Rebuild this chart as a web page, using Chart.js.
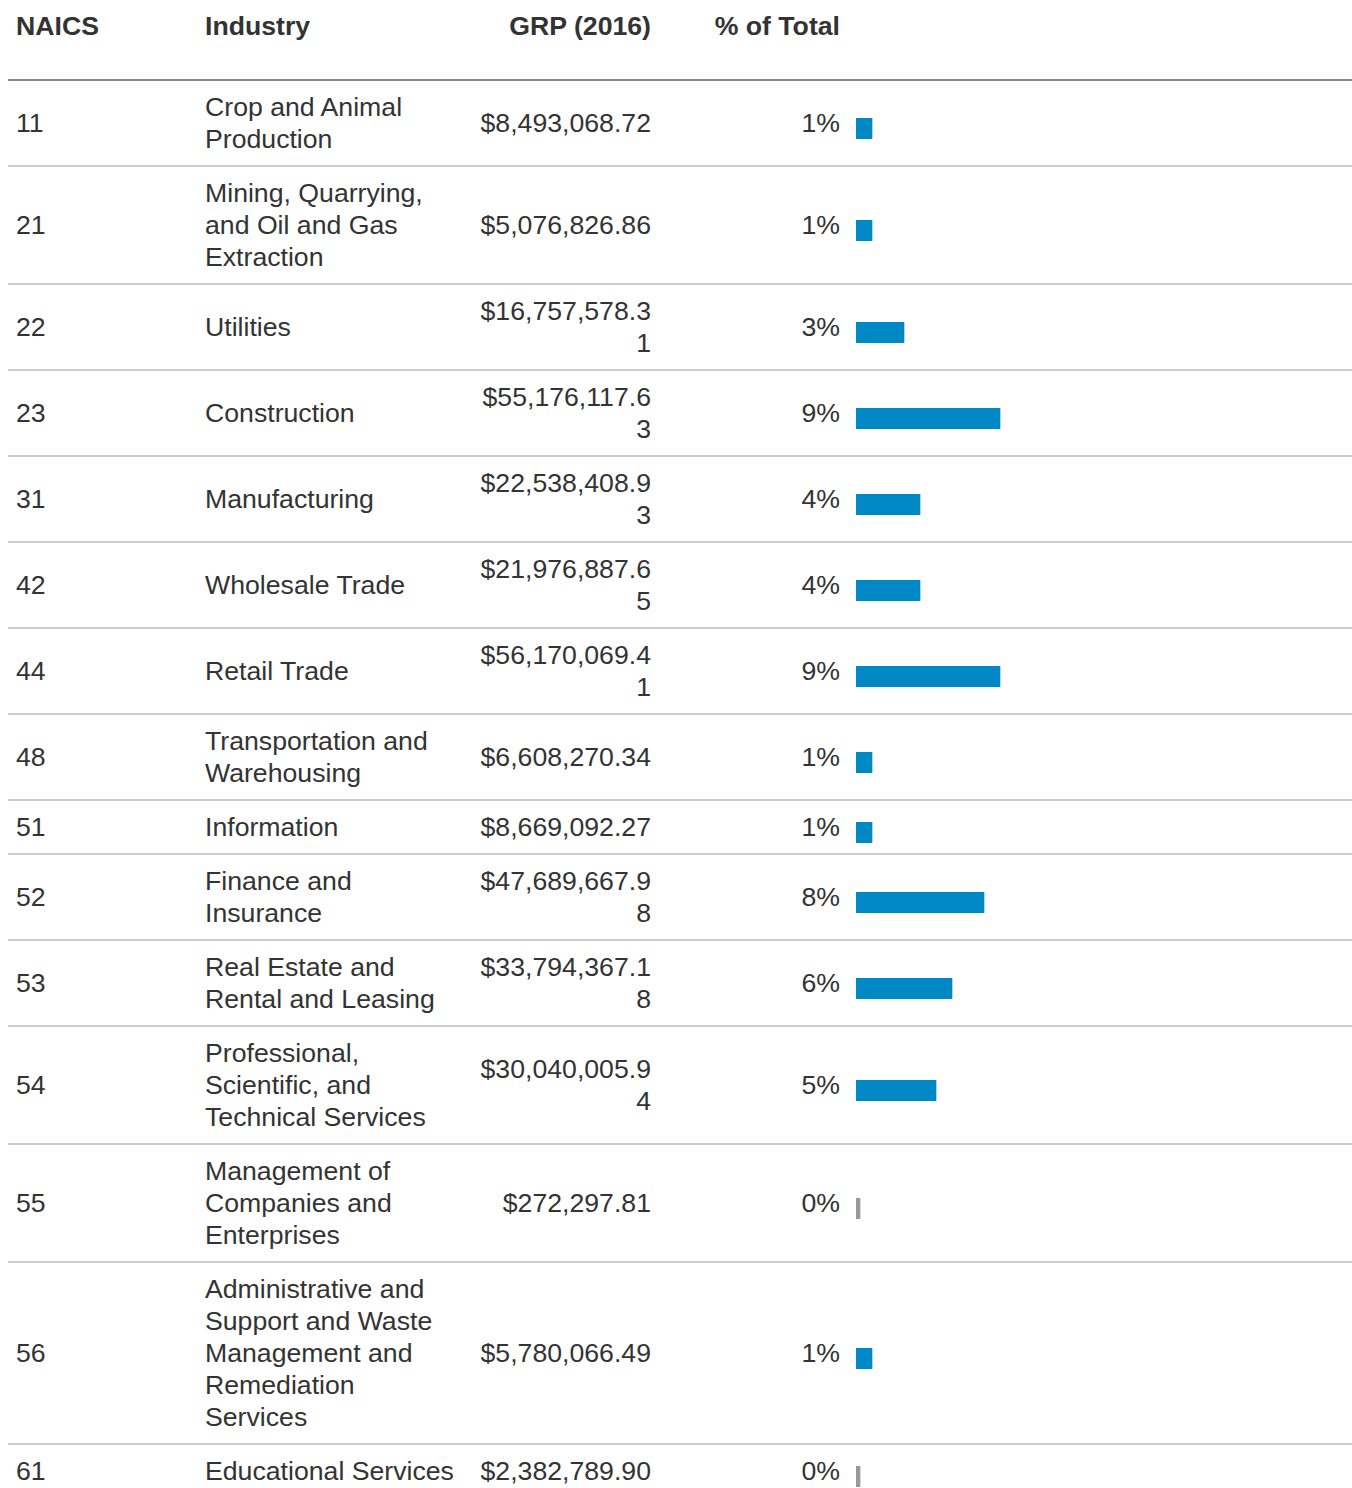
<!DOCTYPE html>
<html>
<head>
<meta charset="utf-8">
<script src="https://cdn.jsdelivr.net/npm/chart.js@4.4.0/dist/chart.umd.min.js"></script>
<style>
    html, body { margin: 0; padding: 0; overflow: hidden; background: #fff; }
    body { padding: 8px; }
    table {
        border-collapse: collapse;
        table-layout: fixed;
        width: 1344px;
        font-family: "Liberation Sans", Arial, sans-serif;
        font-size: 26.67px;
        line-height: 32px;
        color: #333;
    }
    th, td { padding: 10px 8px; text-align: left; vertical-align: middle; }
    th { font-weight: bold; padding-top: 2px; padding-bottom: 37px; border-bottom: 2px solid #888; vertical-align: top; }
    td { border-bottom: 2px solid #ccc; }
    .num { text-align: right; overflow-wrap: anywhere; word-break: break-all; }
    td.bar { padding: 0 8px; }
    td.bar canvas { display: block; }
</style>
</head>
<body>
<table id="grp-table">
    <colgroup>
        <col style="width:189px">
        <col style="width:274px">
        <col style="width:188px">
        <col style="width:189px">
        <col style="width:504px">
    </colgroup>
    <thead>
        <tr><th>NAICS</th><th>Industry</th><th class="num">GRP (2016)</th><th class="num">% of Total</th><th></th></tr>
    </thead>
    <tbody id="rows"></tbody>
</table>
<script>
const naics = ['11', '21', '22', '23', '31', '42', '44', '48', '51', '52', '53', '54', '55', '56', '61'];
const industries = [
    'Crop and Animal Production',
    'Mining, Quarrying, and Oil and Gas Extraction',
    'Utilities',
    'Construction',
    'Manufacturing',
    'Wholesale Trade',
    'Retail Trade',
    'Transportation and Warehousing',
    'Information',
    'Finance and Insurance',
    'Real Estate and Rental and Leasing',
    'Professional, Scientific, and Technical Services',
    'Management of Companies and Enterprises',
    'Administrative and Support and Waste Management and Remediation Services',
    'Educational Services'
];
const grp = [8493068.72, 5076826.86, 16757578.31, 55176117.63, 22538408.93, 21976887.65, 56170069.41,
    6608270.34, 8669092.27, 47689667.98, 33794367.18, 30040005.94, 272297.81, 5780066.49, 2382789.90];
const pctOfTotal = [1, 1, 3, 9, 4, 4, 9, 1, 1, 8, 6, 5, 0, 1, 0];

const tbody = document.getElementById('rows');

function formatMoney(v) {
    return '$' + v.toLocaleString('en-US', { minimumFractionDigits: 2, maximumFractionDigits: 2 });
}

for (let i = 0; i < naics.length; i++) {
    const tr = document.createElement('tr');
    tr.innerHTML = '<td>' + naics[i] + '</td>' +
        '<td>' + industries[i] + '</td>' +
        '<td class="num">' + formatMoney(grp[i]) + '</td>' +
        '<td class="num">' + pctOfTotal[i] + '%</td>' +
        '<td class="bar"><canvas width="488" height="32"></canvas></td>';
    tbody.appendChild(tr);

    // one small horizontal bar per row, 0% shown as a thin grey stub
    const ctx = tr.querySelector('canvas').getContext('2d');
    new Chart(ctx, {
        type: 'bar',
        data: {
            labels: [naics[i]],
            datasets: [{
                data: [pctOfTotal[i]],
                backgroundColor: (c) => c.raw === 0 ? '#999999' : '#0088c4',
                borderWidth: 0,
                barThickness: 21,
                minBarLength: 4
            }]
        },
        options: {
            indexAxis: 'y',
            responsive: false,
            animation: false,
            layout: { padding: { top: 11, left: 0, right: 0, bottom: 0 } },
            plugins: { legend: { display: false }, tooltip: { enabled: false } },
            scales: {
                x: { display: false, min: 0, max: 30.5 },
                y: { display: false }
            }
        }
    });
}
</script>
</body>
</html>
